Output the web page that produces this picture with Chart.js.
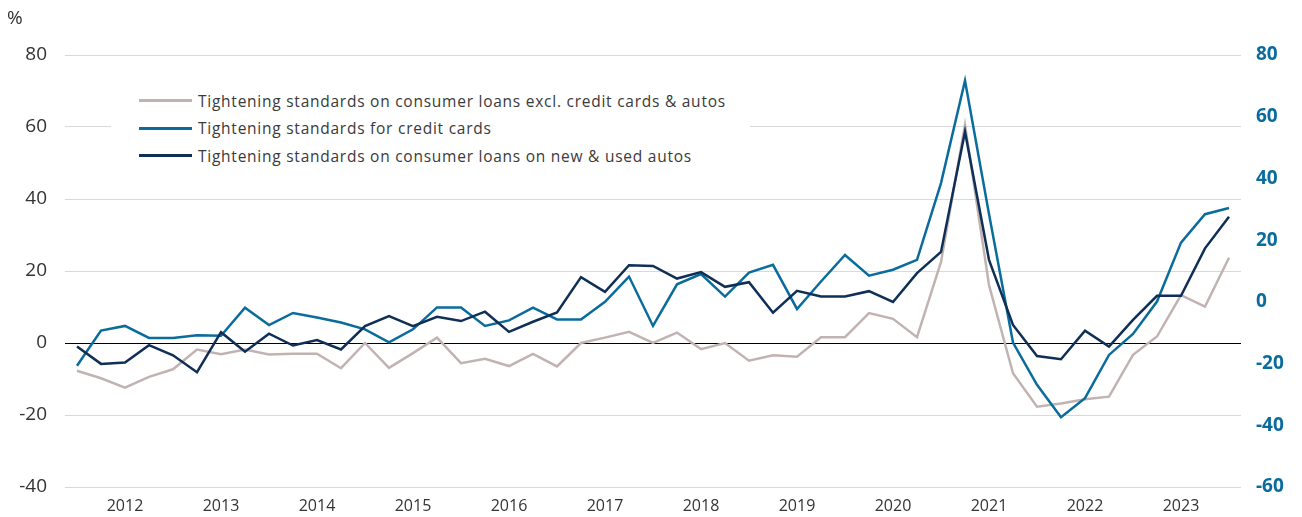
<!DOCTYPE html>
<html>
<head>
<meta charset="utf-8">
<title>Tightening standards</title>
<script src="https://cdn.jsdelivr.net/npm/chart.js@4/dist/chart.umd.min.js"></script>
<style>
  html, body { margin: 0; padding: 0; background: #fff; }
  #wrap { position: relative; width: 1302px; height: 517px; }
  #legend {
    position: absolute; left: 111px; top: 87px; width: 639px;
    background: #fff; font-family: "Open Sans", sans-serif; font-size: 15.5px;
    letter-spacing: 0.75px; color: #3a3a3a;
  }
  .item { display: flex; align-items: center; height: 27.5px; }
  .swatch { width: 53px; height: 3px; margin-left: 28px; margin-right: 6px; }
</style>
</head>
<body>
<div id="wrap">
  <canvas id="chart" width="1302" height="517"></canvas>
  <div id="legend"></div>
</div>
<script>
// quarterly survey dates
const quarters = [
  '2011 Q3', '2011 Q4',
  '2012 Q1', '2012 Q2', '2012 Q3', '2012 Q4',
  '2013 Q1', '2013 Q2', '2013 Q3', '2013 Q4',
  '2014 Q1', '2014 Q2', '2014 Q3', '2014 Q4',
  '2015 Q1', '2015 Q2', '2015 Q3', '2015 Q4',
  '2016 Q1', '2016 Q2', '2016 Q3', '2016 Q4',
  '2017 Q1', '2017 Q2', '2017 Q3', '2017 Q4',
  '2018 Q1', '2018 Q2', '2018 Q3', '2018 Q4',
  '2019 Q1', '2019 Q2', '2019 Q3', '2019 Q4',
  '2020 Q1', '2020 Q2', '2020 Q3', '2020 Q4',
  '2021 Q1', '2021 Q2', '2021 Q3', '2021 Q4',
  '2022 Q1', '2022 Q2', '2022 Q3', '2022 Q4',
  '2023 Q1', '2023 Q2', '2023 Q3'
];

// consumer loans excl. credit cards & autos (left axis)
const otherConsumer = [
  -7.7, -9.8, -12.4, -9.4, -7.3, -1.8, -3.1, -1.8, -3.2, -3.0,
  -3.0, -7.0, 0.0, -6.9, -2.8, 1.5, -5.6, -4.4, -6.4, -3.0,
  -6.5, 0.0, 1.5, 3.1, 0.0, 2.9, -1.7, 0.0, -4.9, -3.4,
  -3.8, 1.6, 1.6, 8.3, 6.7, 1.6, 22.5, 60.6, 16.1, -8.4,
  -17.7, -16.8, -15.6, -14.9, -3.3, 1.8, 13.3, 10.1, 23.7
];

// credit cards (right axis)
const creditCards = [
  -20.7, -9.3, -7.8, -11.7, -11.7, -10.8, -11.0, -1.9, -7.5, -3.6,
  -5.1, -6.7, -8.9, -13.1, -8.9, -1.8, -1.8, -7.8, -6.0, -1.9,
  -5.7, -5.7, 0.0, 8.2, -7.8, 5.7, 9.0, 1.7, 9.5, 12.0,
  -2.3, 6.6, 15.2, 8.5, 10.4, 13.6, 38.5, 71.7, 28.5, -13.2,
  -26.9, -37.4, -31.2, -17.2, -10.4, 0.1, 19.2, 28.4, 30.4
];

// new & used autos (left axis)
const autos = [
  -1.0, -5.8, -5.4, -0.6, -3.4, -8.1, 3.0, -2.4, 2.6, -0.7,
  0.8, -1.8, 4.7, 7.5, 4.7, 7.3, 6.1, 8.7, 3.1, 5.9,
  8.5, 18.3, 14.2, 21.6, 21.4, 17.9, 19.7, 15.6, 16.9, 8.4,
  14.5, 12.9, 12.9, 14.4, 11.4, 19.4, 25.3, 58.7, 23.1, 5.0,
  -3.6, -4.5, 3.4, -1.0, 6.4, 13.1, 13.1, 26.3, 35.1
];

const GREY = '#c2b3b3';
const BLUE = '#0a6c9d';
const NAVY = '#0f2f57';
const TEXT = '#333333';
const FONT = '"Open Sans", sans-serif';

const percentLabel = {
  id: 'percentLabel',
  afterDraw(chart) {
    const ctx = chart.ctx;
    ctx.save();
    ctx.font = '19px ' + FONT;
    ctx.fillStyle = TEXT;
    ctx.textBaseline = 'middle';
    ctx.fillText('%', 7, 19);
    ctx.restore();
  }
};

const chart = new Chart(document.getElementById('chart'), {
  type: 'line',
  data: {
    labels: quarters,
    datasets: [
      { label: 'Tightening standards on consumer loans excl. credit cards & autos', data: otherConsumer,
        borderColor: GREY, yAxisID: 'y', order: 2 },
      { label: 'Tightening standards for credit cards', data: creditCards,
        borderColor: BLUE, yAxisID: 'y2', order: 1 },
      { label: 'Tightening standards on consumer loans on new & used autos', data: autos,
        borderColor: NAVY, yAxisID: 'y', order: 0 }
    ]
  },
  options: {
    responsive: false,
    animation: false,
    layout: { padding: { top: 55, left: 0, right: 0, bottom: 0 } },
    elements: {
      line: { borderWidth: 2.5, tension: 0, fill: false },
      point: { radius: 0 }
    },
    plugins: {
      legend: { display: false },
      tooltip: { enabled: false }
    },
    scales: {
      x: {
        type: 'category',
        offset: true,
        grid: { display: false, drawTicks: false },
        border: { display: false },
        afterFit: s => { s.height = 30; },
        ticks: {
          autoSkip: false,
          maxRotation: 0,
          padding: 10,
          color: TEXT,
          font: { family: FONT, size: 16 },
          callback: function(value, index) {
            const q = quarters[index];
            return q.endsWith('Q1') ? q.slice(0, 4) : '';
          }
        }
      },
      y: {
        position: 'left',
        min: -40,
        max: 80,
        afterFit: s => { s.width = 65; },
        border: { display: false },
        grid: {
          drawTicks: false,
          lineWidth: 1,
          color: ctx => ctx.tick && ctx.tick.value === 0 ? '#000000' : '#d9d9d9'
        },
        ticks: {
          stepSize: 20,
          padding: 18,
          color: TEXT,
          font: { family: FONT, size: 19 }
        }
      },
      y2: {
        position: 'right',
        min: -60,
        max: 80,
        afterFit: s => { s.width = 61; },
        border: { display: false },
        grid: { display: false, drawTicks: false },
        ticks: {
          stepSize: 20,
          padding: 15,
          color: BLUE,
          font: { family: FONT, size: 19, weight: 'bold' }
        }
      }
    }
  },
  plugins: [percentLabel]
});

// html legend from the datasets, placed inside the plot
const legend = document.getElementById('legend');
chart.data.datasets.forEach(ds => {
  const row = document.createElement('div');
  row.className = 'item';
  row.innerHTML = `<span class="swatch" style="background:${ds.borderColor}"></span><span>${ds.label}</span>`;
  legend.appendChild(row);
});
</script>
</body>
</html>
